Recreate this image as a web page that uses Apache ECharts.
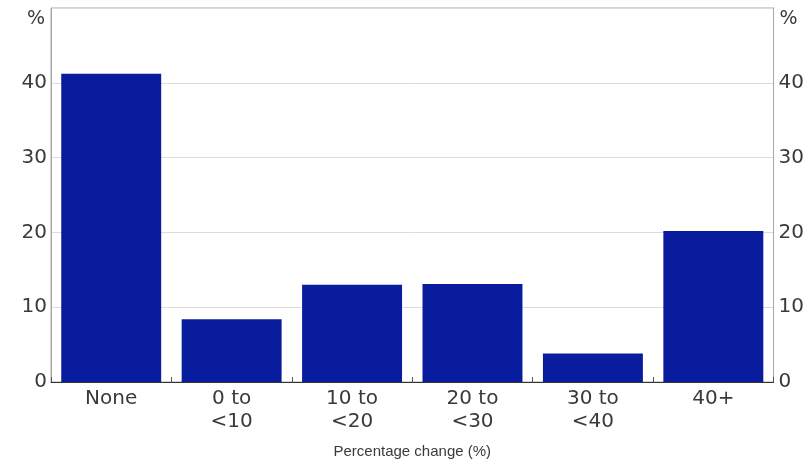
<!DOCTYPE html>
<html>
<head>
<meta charset="utf-8">
<script src="https://cdn.jsdelivr.net/npm/echarts@6/dist/echarts.min.js"></script>
<style>
html,body{margin:0;padding:0;background:#fff;}
#chart{width:807px;height:464px;}
</style>
</head>
<body>
<div id="chart"></div>
<script>
const categories = ['None', '0 to\n<10', '10 to\n<20', '20 to\n<30', '30 to\n<40', '40+'];
const shares = [41.2, 8.4, 13.0, 13.1, 3.8, 20.2];
const yTicks = [0, 10, 20, 30, 40, 50];
const unitLabel = '%';
const xTitle = 'Percentage change (%)';

const chart = echarts.init(document.getElementById('chart'), null, {renderer: 'canvas'});
const labelFont = 'DejaVu Sans';
const yAxisBase = {
  type: 'value',
  min: yTicks[0],
  max: yTicks[yTicks.length - 1],
  interval: 10,
  name: unitLabel,
  nameLocation: 'end',
  nameGap: -21,
  axisLine: {show: true, lineStyle: {color: '#a8a8a8', width: 1}},
  axisTick: {show: false},
  splitLine: {show: true, lineStyle: {color: '#dcdcdc', width: 1}},
  axisLabel: {
    fontFamily: labelFont, fontSize: 20, color: '#3a3a3a',
    padding: [6, 0, 0, 0],
    formatter: v => (v === 50 ? '' : String(v))
  }
};
chart.setOption({
  animation: false,
  backgroundColor: '#ffffff',
  grid: {left: 51, right: 32, top: 8, bottom: 81, show: true, borderColor: '#a8a8a8', borderWidth: 1},
  xAxis: {
    type: 'category',
    data: categories,
    name: xTitle,
    nameLocation: 'middle',
    nameGap: 62,
    nameTextStyle: {fontFamily: 'Liberation Sans', fontSize: 15, color: '#3a3a3a'},
    axisLine: {show: true, lineStyle: {color: '#333333', width: 1}},
    axisTick: {show: true, inside: true, length: 5, lineStyle: {color: '#555555'}},
    axisLabel: {fontFamily: labelFont, fontSize: 20, color: '#3a3a3a', lineHeight: 23, margin: 5, interval: 0}
  },
  yAxis: [
    Object.assign({}, yAxisBase, {
      position: 'left',
      nameTextStyle: {fontFamily: labelFont, fontSize: 19, color: '#3a3a3a', align: 'right', padding: [0, 6, 0, 0]},
      axisLabel: Object.assign({}, yAxisBase.axisLabel, {margin: 4})
    }),
    Object.assign({}, yAxisBase, {
      position: 'right',
      splitLine: {show: false},
      nameTextStyle: {fontFamily: labelFont, fontSize: 19, color: '#3a3a3a', align: 'left', padding: [0, 0, 0, 6]},
      axisLabel: Object.assign({}, yAxisBase.axisLabel, {margin: 5})
    })
  ],
  series: [{
    type: 'bar',
    data: shares,
    yAxisIndex: 0,
    barWidth: '83%',
    itemStyle: {color: '#0a1c9e'}
  }]
});
</script>
</body>
</html>
